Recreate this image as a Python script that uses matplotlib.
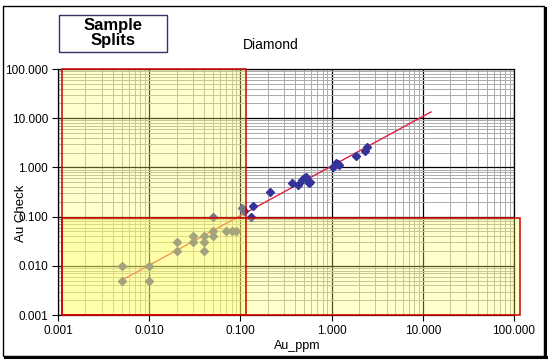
import matplotlib
matplotlib.use('Agg')
import matplotlib.pyplot as plt
from matplotlib.patches import Rectangle
from matplotlib.lines import Line2D
from matplotlib.ticker import LogLocator, FormatStrFormatter, NullFormatter
import numpy as np

plt.rcParams['font.family'] = ['Liberation Sans', 'DejaVu Sans']

# ---- data ----
au_ppm = [0.005, 0.005, 0.01, 0.01, 0.02, 0.02, 0.03, 0.03, 0.04, 0.04, 0.04,
          0.05, 0.05, 0.05, 0.07, 0.08, 0.09, 0.105, 0.11, 0.13, 0.138, 0.21,
          0.365, 0.43, 0.47, 0.50, 0.52, 0.56, 0.58, 1.04, 1.12, 1.18, 1.2,
          1.85, 2.3, 2.43]
au_check = [0.01, 0.005, 0.01, 0.005, 0.03, 0.02, 0.04, 0.03, 0.04, 0.03, 0.02,
            0.1, 0.05, 0.04, 0.05, 0.05, 0.05, 0.15, 0.13, 0.1, 0.164, 0.31,
            0.475, 0.44, 0.55, 0.60, 0.63, 0.475, 0.51, 1.03, 1.25, 1.17, 1.1,
            1.7, 2.19, 2.63]
fit_x = [0.005, 12.3]
fit_y = [0.0051, 13.4]
tick_vals = [0.001, 0.01, 0.1, 1, 10, 100]
# low-grade zones: (x0, x1, y0, y1)
zone_a = (0.0011, 0.115, 0.001, 100)
zone_b = (0.0011, 115, 0.001, 0.095)

W, H = 552, 360
fig = plt.figure(figsize=(W/100, H/100), dpi=100)
ax = fig.add_axes([58/W, 1-315/H, (514-58)/W, (315-69)/H])
ax.set_xscale('log')
ax.set_yscale('log')
ax.set_xlim(tick_vals[0], tick_vals[-1])
ax.set_ylim(tick_vals[0], tick_vals[-1])
ax.set_xticks(tick_vals)
ax.set_yticks(tick_vals)
for a in (ax.xaxis, ax.yaxis):
    a.set_major_formatter(FormatStrFormatter('%.3f'))
    a.set_minor_locator(LogLocator(base=10, subs=np.arange(2, 10)))
    a.set_minor_formatter(NullFormatter())
ax.set_axisbelow(True)
ax.grid(True, which='minor', color='#ABABAB', lw=0.7)
ax.grid(True, which='major', color='black', lw=0.9)
ax.tick_params(which='minor', length=0)
ax.tick_params(which='major', length=4, direction='out', labelsize=8.5,
               pad=3, colors='black')
for s in ax.spines.values():
    s.set_color('black')
    s.set_linewidth(0.9)

ax.plot(fit_x, fit_y, color='#E02040', lw=1.0, zorder=2.5)
ax.plot(au_ppm, au_check, 'D', ms=4.5, color='#333399', mec='#333399',
        zorder=3, linestyle='none')

for (x0, x1, y0, y1) in (zone_a, zone_b):
    ax.add_patch(Rectangle((x0, y0), x1-x0, y1-y0, facecolor='#FFFF66',
                           alpha=0.33, edgecolor='none', zorder=4,
                           clip_on=False))
    ax.add_patch(Rectangle((x0, y0), x1-x0, y1-y0, fill=False,
                           edgecolor='#D00000', lw=1.1, zorder=5,
                           clip_on=False))

fig.text(271/W, 1-45/H, 'Diamond', ha='center', va='center', fontsize=10)
fig.text(297/W, 1-346/H, 'Au_ppm', ha='center', va='center', fontsize=9)
fig.text(21/W, 1-213/H, 'Au Check', ha='center', va='center', fontsize=9.5,
         rotation=90)

fig.patches.append(Rectangle((59/W, 1-52/H), (167-59)/W, (52-15)/H,
                             transform=fig.transFigure, fill=False,
                             edgecolor='#333366', lw=1))
fig.text(113/W, 1-33/H, 'Sample\nSplits', ha='center', va='center',
         fontsize=12, fontweight='bold', linespacing=0.95)

fig.patches.append(Rectangle((3/W, 1-356/H), (544-3)/W, (356-6)/H,
                             transform=fig.transFigure, fill=False,
                             edgecolor='black', lw=1))
fig.lines.append(Line2D([544.5/W, 544.5/W], [1-8/H, 1-357/H],
                        transform=fig.transFigure, color='black', lw=2.2))
fig.lines.append(Line2D([5/W, 545.5/W], [1-356.5/H, 1-356.5/H],
                        transform=fig.transFigure, color='black', lw=2.2))

fig.savefig('out.png', dpi=100)
